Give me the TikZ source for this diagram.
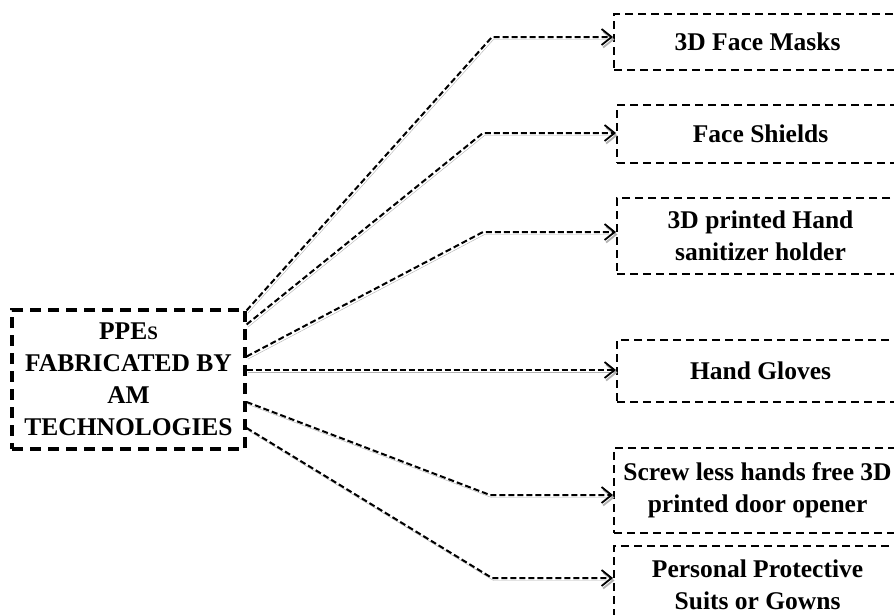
\documentclass[tikz,border=0pt]{standalone}
\usepackage{fontspec}
\setmainfont{Liberation Serif}
\usetikzlibrary{arrows.meta}

\tikzset{
  mainbox/.style={draw, line width=3.2pt, dash pattern=on 11pt off 7pt,
    align=center, minimum width=233pt, minimum height=139pt, inner sep=0pt,
    font=\fontsize{25.5}{32}\selectfont\bfseries},
  itembox/.style={draw, line width=2.1pt, dash pattern=on 8pt off 5pt,
    align=center, minimum width=287pt, inner sep=0pt, anchor=west,
    font=\fontsize{25.5}{32}\selectfont\bfseries},
  link/.style={line width=2pt, dash pattern=on 6pt off 3pt,
    -{Straight Barb[length=10pt,width=16pt,line width=1.8pt]},
    preaction={draw=black!30, transform canvas={shift={(1.5pt,-2.5pt)}}}}
}

\begin{document}
\begin{tikzpicture}[x=1pt, y=-1pt]
  \clip (0,0) rectangle (894,614);
  \fill[white] (0,0) rectangle (894,614);

  % source box
  \node[mainbox] (ppe) at (128.5,379.5)
    {PPE{\fontsize{19}{19}\selectfont S}\\FABRICATED BY\\AM\\TECHNOLOGIES};

  % fabricated items
  \node[itembox, minimum height=56pt] (masks)   at (613,42)  {3D Face Masks};
  \node[itembox, minimum height=58pt] (shields) at (616,134) {Face Shields};
  \node[itembox, minimum height=76pt] (holder)  at (616,236) {3D printed Hand\\sanitizer holder};
  \node[itembox, minimum height=62pt] (gloves)  at (616,371) {Hand Gloves};
  \node[itembox, minimum height=85pt] (opener)  at (613,490.5) {Screw less hands free 3D\\printed door opener};
  \node[itembox, minimum height=78pt] (suits)   at (613,585) {Personal Protective\\Suits or Gowns};

  % bends of the connectors
  \coordinate (k1) at (492,37);
  \coordinate (k2) at (483,133);
  \coordinate (k3) at (483,232);
  \coordinate (k4) at (430,370);
  \coordinate (k5) at (490,495);
  \coordinate (k6) at (492,578);

  \draw[link] ([yshift=-2pt]ppe.north east) -- (k1) -- (masks.west |- k1);
  \draw[link] ([yshift=55pt]ppe.east) -- (k2) -- (shields.west |- k2);
  \draw[link] ([yshift=23pt]ppe.east) -- (k3) -- (holder.west |- k3);
  \draw[link] (ppe.east |- k4) -- (gloves.west |- k4);
  \draw[link] ([yshift=-22.5pt]ppe.east) -- (k5) -- (opener.west |- k5);
  \draw[link] ([yshift=-48.5pt]ppe.east) -- (k6) -- (suits.west |- k6);
\end{tikzpicture}
\end{document}
